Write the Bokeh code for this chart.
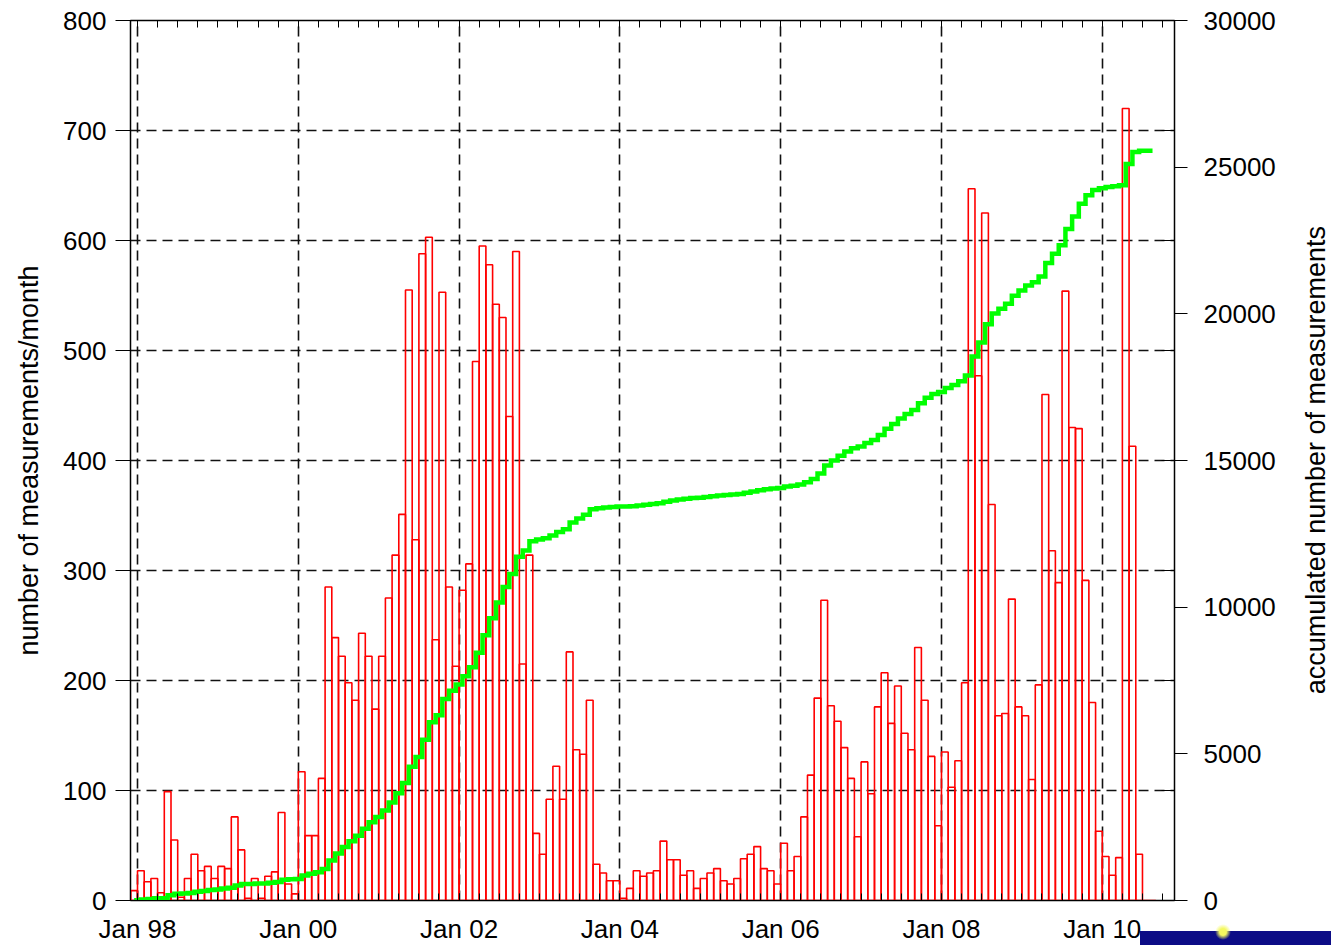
import numpy as np
from bokeh.plotting import figure
from bokeh.models import Range1d, LinearAxis, FixedTicker, Div
from bokeh.layouts import row
from bokeh.embed import file_html
from bokeh.resources import INLINE

# ---- data: measurements per month, Dec 1997 .. Aug 2010 ----
counts_1997 = [9]  # Dec
counts_1998 = [27, 17, 20, 7, 99, 55, 3, 20, 42, 27, 31, 20]
counts_1999 = [31, 29, 76, 46, 2, 20, 2, 22, 26, 80, 15, 6]
counts_2000 = [117, 59, 59, 111, 285, 239, 222, 198, 182, 243, 222, 174]
counts_2001 = [222, 275, 314, 351, 555, 328, 588, 603, 237, 553, 285, 213]
counts_2002 = [282, 306, 490, 595, 578, 542, 530, 440, 590, 215, 314, 61]
counts_2003 = [42, 92, 122, 92, 226, 137, 133, 182, 33, 25, 18, 18]
counts_2004 = [2, 11, 27, 22, 25, 27, 54, 37, 37, 23, 27, 11]
counts_2005 = [20, 25, 29, 18, 15, 20, 38, 42, 49, 29, 27, 15]
counts_2006 = [52, 27, 40, 76, 114, 184, 273, 177, 163, 139, 111, 58]
counts_2007 = [126, 97, 176, 207, 161, 195, 152, 137, 230, 182, 131, 68]
counts_2008 = [135, 103, 127, 198, 647, 477, 625, 360, 168, 170, 274, 176]
counts_2009 = [168, 110, 196, 460, 318, 289, 554, 430, 429, 291, 180, 63]
counts_2010 = [40, 23, 39, 720, 413, 42, 0, 0]

x_tick_months = [0, 24, 48, 72, 96, 120, 144]          # months after Jan 1998
x_tick_labels = ["Jan 98", "Jan 00", "Jan 02", "Jan 04", "Jan 06", "Jan 08", "Jan 10"]
left_ticks = [0, 100, 200, 300, 400, 500, 600, 700, 800]
right_ticks = [0, 5000, 10000, 15000, 20000, 25000, 30000]

monthly = (counts_1997 + counts_1998 + counts_1999 + counts_2000 + counts_2001 +
           counts_2002 + counts_2003 + counts_2004 + counts_2005 + counts_2006 +
           counts_2007 + counts_2008 + counts_2009 + counts_2010)
monthly = np.array(monthly, dtype=float)
month_pos = np.arange(len(monthly)) - 1          # Dec 1997 -> -1, Jan 1998 -> 0
accumulated = np.cumsum(monthly)

FONT = "Liberation Sans"
TICK_SIZE = "26px"
LABEL_SIZE = "27px"

p = figure(frame_width=1044, frame_height=880,
           x_range=Range1d(-1.045, 154.78), y_range=Range1d(0, 800),
           output_backend="svg", toolbar_location=None,
           min_border_left=130, min_border_top=20, min_border_right=127, min_border_bottom=45,
           background_fill_color="white", border_fill_color="white")
p.extra_y_ranges = {"cum": Range1d(0, 30000)}
p.outline_line_color = "black"
p.outline_line_width = 1.5

quarter_ticks = list(range(0, 156, 3))
xticker = FixedTicker(ticks=x_tick_months, minor_ticks=quarter_ticks)

# grids
p.xgrid.ticker = FixedTicker(ticks=x_tick_months)
p.ygrid.ticker = FixedTicker(ticks=left_ticks)
for g in (p.xgrid, p.ygrid):
    g.grid_line_color = "#111111"
    g.grid_line_width = 1.6
    g.grid_line_dash = "10 6"

# bars
p.quad(left=month_pos, right=month_pos + 1, bottom=0, top=monthly,
       fill_alpha=0, line_color="#ff0000", line_width=1.6)

# accumulated step line
p.step(x=month_pos + 0.5, y=accumulated, mode="after", y_range_name="cum",
       line_color="#00ff00", line_width=4.5, line_join="miter")

# bottom axis
xa = p.xaxis[0]
xa.ticker = xticker
xa.major_label_overrides = {m: lab for m, lab in zip(x_tick_months, x_tick_labels)}
xa.major_tick_in = 7
xa.major_tick_out = 0
xa.minor_tick_in = 7
xa.minor_tick_out = 0
xa.major_label_standoff = 13
xa.major_label_text_font = FONT
xa.major_label_text_font_size = TICK_SIZE
xa.major_label_text_color = "black"
xa.axis_line_color = "black"

# top axis (ticks only)
top = LinearAxis(ticker=xticker, major_tick_in=7, major_tick_out=0,
                 minor_tick_in=7, minor_tick_out=0,
                 major_label_text_font_size="0px", major_label_standoff=0,
                 axis_line_color="black")
top.major_label_overrides = {m: "" for m in x_tick_months}
p.add_layout(top, "above")

# left axis
ya = p.yaxis[0]
ya.ticker = FixedTicker(ticks=left_ticks)
ya.major_tick_out = 15
ya.major_tick_in = 0
ya.minor_tick_out = 0
ya.minor_tick_in = 0
ya.major_label_standoff = 9
ya.major_label_text_font = FONT
ya.major_label_text_font_size = TICK_SIZE
ya.major_label_text_color = "black"
ya.axis_label = "number of measurements/month"
ya.axis_label_text_font = FONT
ya.axis_label_text_font_size = LABEL_SIZE
ya.axis_label_text_font_style = "normal"
ya.axis_label_text_color = "black"
ya.axis_label_standoff = 16
ya.axis_line_color = "black"

# right axis
mirror = [t * 30000 / 800 for t in left_ticks]
ra = LinearAxis(y_range_name="cum",
                ticker=FixedTicker(ticks=right_ticks, minor_ticks=mirror),
                major_tick_out=13, major_tick_in=0,
                minor_tick_in=13, minor_tick_out=0,
                major_label_standoff=16,
                major_label_text_font=FONT, major_label_text_font_size=TICK_SIZE,
                major_label_text_color="black", axis_line_color="black")
p.add_layout(ra, "right")

# right axis title (reading bottom-to-top) and the logo strip fragment in the corner
right_title = Div(
    text=("<div style=\"position:relative;width:30px;height:945px;\">"
          "<div style=\"position:absolute;left:0;top:0;width:30px;height:920px;display:flex;"
          "align-items:center;justify-content:center;\">"
          "<span style=\"writing-mode:vertical-rl;transform:rotate(180deg);"
          "font-family:'Liberation Sans';font-size:27px;color:black;white-space:nowrap;\">"
          "accumulated number of measurements</span></div>"
          "<div style=\"position:absolute;left:-161px;top:931px;width:191px;height:14px;"
          "background:#0c0c86;\"></div>"
          "<div style=\"position:absolute;left:-86px;top:924px;width:16px;height:16px;"
          "border-radius:8px;background:radial-gradient(circle,#f4f860 30%,rgba(0,0,0,0) 70%);\">"
          "</div></div>"),
    width=30, height=945, margin=0)

layout = row(p, right_title, spacing=0)

open("out.html", "w").write(file_html(layout, INLINE))
